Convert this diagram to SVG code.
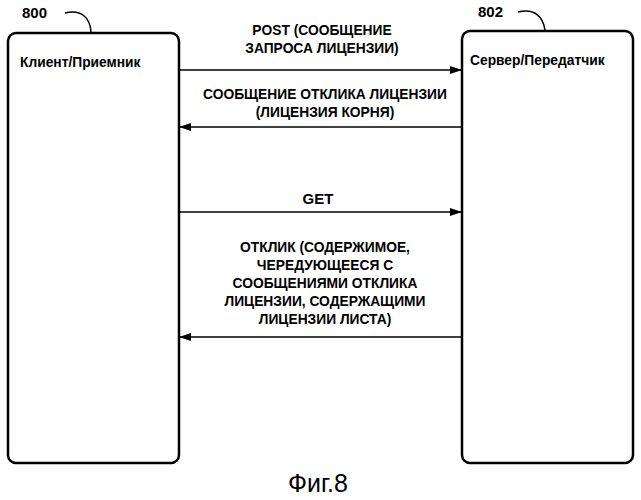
<svg xmlns="http://www.w3.org/2000/svg" width="641" height="500" viewBox="0 0 641 500">
<style>
.box{fill:none;stroke:#000;stroke-width:2.5}
.t{font-family:"Liberation Sans",Arial,sans-serif;font-weight:bold;font-size:13.8px;fill:#000}
.m{text-anchor:middle}
.c{stroke:#000;stroke-width:1.5;fill:none}
</style>
<defs><marker id="a" markerWidth="12" markerHeight="8" refX="11" refY="4" orient="auto" markerUnits="userSpaceOnUse"><path d="M0,0 L12,4 L0,8 Z" fill="#000"/></marker></defs>
<g id="n800">
<rect class="box" x="8" y="33" width="171" height="430" rx="8"/>
<text class="t" x="20" y="67">Клиент/Приемник</text>
<text class="t" x="22" y="18" style="font-size:15px">800</text>
<path class="c" d="M65,13 C82,9 90,18 91,32"/>
</g>
<g id="n802">
<rect class="box" x="462" y="31" width="171" height="432" rx="8"/>
<text class="t" x="470" y="65">Сервер/Передатчик</text>
<text class="t" x="478" y="17" style="font-size:15px">802</text>
<path class="c" d="M518,12 C535,8 543,17 545,30"/>
</g>
<g id="connectors">
<line class="c" x1="179" y1="70" x2="461" y2="70" marker-end="url(#a)"/>
<line class="c" x1="462" y1="127" x2="180" y2="127" marker-end="url(#a)"/>
<line class="c" x1="179" y1="212" x2="461" y2="212" marker-end="url(#a)"/>
<line class="c" x1="462" y1="337" x2="180" y2="337" marker-end="url(#a)"/>
</g>
<g id="labels">
<text class="t m" x="322" y="35">POST (СООБЩЕНИЕ</text>
<text class="t m" x="322" y="53">ЗАПРОСА ЛИЦЕНЗИИ)</text>
<text class="t m" x="325" y="99">СООБЩЕНИЕ ОТКЛИКА ЛИЦЕНЗИИ</text>
<text class="t m" x="325" y="117">(ЛИЦЕНЗИЯ КОРНЯ)</text>
<text class="t m" x="318" y="204" style="font-size:15px">GET</text>
<text class="t m" x="325" y="252">ОТКЛИК (СОДЕРЖИМОЕ,</text>
<text class="t m" x="325" y="270">ЧЕРЕДУЮЩЕЕСЯ С</text>
<text class="t m" x="325" y="288">СООБЩЕНИЯМИ ОТКЛИКА</text>
<text class="t m" x="325" y="306">ЛИЦЕНЗИИ, СОДЕРЖАЩИМИ</text>
<text class="t m" x="325" y="324">ЛИЦЕНЗИИ ЛИСТА)</text>
<text class="m" x="318" y="492" style="font-family:'Liberation Sans',Arial,sans-serif;font-size:25px">Фиг.8</text>
</g>
</svg>
